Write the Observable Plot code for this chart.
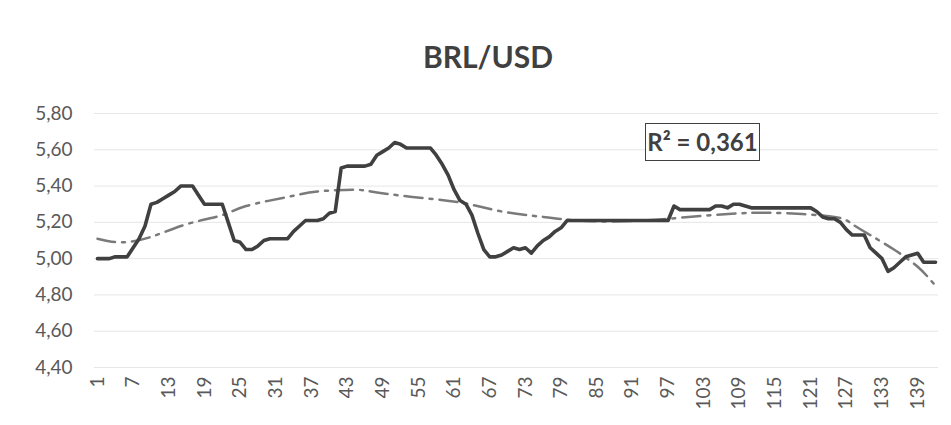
<!DOCTYPE html>
<html>
<head>
<meta charset="utf-8">
<script src="https://cdn.jsdelivr.net/npm/d3@7"></script>
<script src="https://cdn.jsdelivr.net/npm/@observablehq/plot@0.6"></script>
<style>
  body { margin: 0; background: #fff; font-family: Lato, "Open Sans", sans-serif; }
  #wrap { position: relative; width: 951px; height: 425px; overflow: hidden; }
  #title { position: absolute; left: 0; top: 38px; width: 976px; text-align: center;
           font-weight: bold; font-size: 30px; line-height: 36px; color: #404040; }
  #chart { position: absolute; left: 0; top: 85px; }
  #r2 { position: absolute; left: 645px; top: 123px; width: 113px; height: 36px;
        border: 1.5px solid #404040; background: #fff; text-align: center;
        font-weight: bold; font-size: 24px; line-height: 36px; color: #404040; }
</style>
</head>
<body>
<div id="wrap">
  <div id="title">BRL/USD</div>
  <div id="chart"></div>
  <div id="r2">R² = 0,361</div>
</div>
<script>
// BRL/USD series, index 1..142
const rates = [
  5.00, 5.00, 5.00, 5.01, 5.01, 5.01, 5.06, 5.11, 5.18, 5.30,
  5.31, 5.33, 5.35, 5.37, 5.40, 5.40, 5.40, 5.35, 5.30, 5.30,
  5.30, 5.30, 5.20, 5.10, 5.09, 5.05, 5.05, 5.07, 5.10, 5.11,
  5.11, 5.11, 5.11, 5.15, 5.18, 5.21, 5.21, 5.21, 5.22, 5.25,
  5.26, 5.50, 5.51, 5.51, 5.51, 5.51, 5.52, 5.57, 5.59, 5.61,
  5.64, 5.63, 5.61, 5.61, 5.61, 5.61, 5.61, 5.57, 5.52, 5.46,
  5.38, 5.32, 5.30, 5.24, 5.14, 5.05, 5.01, 5.01, 5.02, 5.04,
  5.06, 5.05, 5.06, 5.03, 5.07, 5.10, 5.12, 5.15, 5.17, 5.21,
  5.21, 5.21, 5.21, 5.21, 5.21, 5.21, 5.21, 5.21, 5.21, 5.21,
  5.21, 5.21, 5.21, 5.21, 5.21, 5.21, 5.21, 5.29, 5.27, 5.27,
  5.27, 5.27, 5.27, 5.27, 5.29, 5.29, 5.28, 5.30, 5.30, 5.29,
  5.28, 5.28, 5.28, 5.28, 5.28, 5.28, 5.28, 5.28, 5.28, 5.28,
  5.28, 5.26, 5.23, 5.22, 5.22, 5.20, 5.16, 5.13, 5.13, 5.13,
  5.06, 5.03, 5.00, 4.93, 4.95, 4.98, 5.01, 5.02, 5.03, 4.98,
  4.98, 4.98
];
// Polynomial trend line
const trendIdx = [1, 5, 10, 16, 22, 26, 33, 38, 44, 47, 54, 62, 69, 76, 80, 86, 93, 99, 109, 117, 125, 128, 131, 135, 139, 142];
const trendVal = [5.11, 5.09, 5.12, 5.19, 5.24, 5.29, 5.34, 5.37, 5.38, 5.37, 5.34, 5.31, 5.26, 5.23, 5.215, 5.205, 5.21, 5.225, 5.25, 5.25, 5.23, 5.19, 5.13, 5.05, 4.955, 4.85];
const xTicks = [1, 7, 13, 19, 25, 31, 37, 43, 49, 55, 61, 67, 73, 79, 85, 91, 97, 103, 109, 115, 121, 127, 133, 139];
const yTicks = [4.4, 4.6, 4.8, 5.0, 5.2, 5.4, 5.6, 5.8];
const yTickLabels = ["4,40", "4,60", "4,80", "5,00", "5,20", "5,40", "5,60", "5,80"];

const series = rates.map((v, i) => ({i: i + 1, v}));
const trend = trendIdx.map((i, k) => ({i, v: trendVal[k]}));
const yFmt = d => yTickLabels[yTicks.findIndex(t => Math.abs(t - d) < 1e-9)];

const chart = Plot.plot({
  width: 951,
  height: 340,
  marginLeft: 94,
  marginRight: 13,
  marginTop: 28,
  marginBottom: 58,
  style: {fontFamily: "Lato, 'Open Sans', sans-serif", color: "#595959", background: "#fff"},
  x: {domain: [0.5, rates.length + 0.5], label: null},
  y: {domain: [4.4, 5.8], label: null},
  marks: [
    Plot.gridY(yTicks, {stroke: "#e6e6e6", strokeOpacity: 1, strokeWidth: 1}),
    Plot.line(trend, {x: "i", y: "v", curve: "natural", stroke: "#7a7a7a", strokeWidth: 2.5,
                      strokeDasharray: "18,7,3,7"}),
    Plot.line(series, {x: "i", y: "v", stroke: "#404040", strokeWidth: 3.6, strokeLinejoin: "round"}),
    Plot.axisX({ticks: xTicks, tickSize: 0, tickPadding: 9, tickRotate: -90, fontSize: 19,
                fill: "#595959", label: null, tickFormat: d => String(d)}),
    Plot.axisY({ticks: yTicks, tickSize: 0, tickPadding: 22, fontSize: 19, fill: "#595959",
                label: null, tickFormat: yFmt})
  ]
});
document.getElementById("chart").appendChild(chart);
</script>
</body>
</html>
